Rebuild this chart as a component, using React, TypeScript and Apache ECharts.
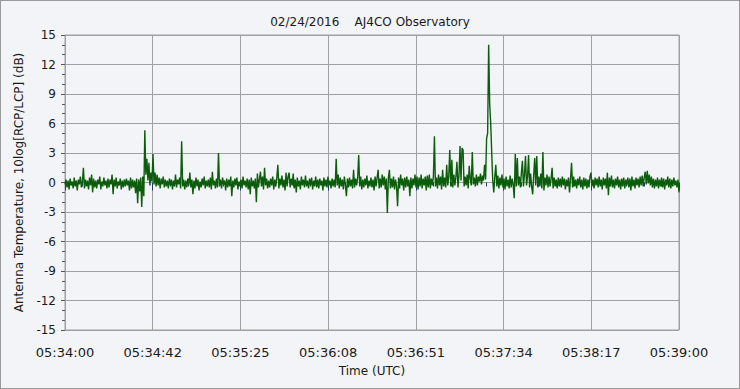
import React, { useEffect, useRef } from "react";
import * as echarts from "echarts";

const titleText = "02/24/2016    AJ4CO Observatory";
const xAxisName = "Time (UTC)";
const yAxisName = "Antenna Temperature, 10log[RCP/LCP] (dB)";
const tickLabels = ["05:34:00", "05:34:42", "05:35:25", "05:36:08", "05:36:51", "05:37:34", "05:38:17", "05:39:00"];
const DURATION_S = 300;
const SAMPLE_STEP_S = 0.5;

// RCP/LCP ratio (dB), one value every 0.5 s from 05:34:00
const signal = [
  -0.2, 0.3, -0.5, 0.2, -0.7, 0.4, -0.3, 0.1, -0.6, 0.5, -0.4, 0.2, -0.8, 0.3, -0.2, 0.6, -0.5, 0.1, 1.5, -0.6,
  0.3, -0.4, 0.2, -0.7, 0.5, -0.3, 0.8, -1.0, 0.4, -0.5, 0.2, -0.6, 0.3, -0.2, 0.6, -0.7, 0.1, -0.4, 0.5, -0.3,
  0.2, -0.6, 0.4, -0.5, 0.3, -0.2, 0.8, -1.2, 0.3, -0.4, 0.5, -0.6, 0.1, -0.3, 0.4, -0.7, 0.2, -0.5, 0.3, -0.4,
  0.4, -0.3, 0.2, -0.8, 0.5, -0.6, 0.3, -0.5, 0.2, -1.1, 0.4, -2.1, 0.3, -0.9, 0.5, -2.5, 0.6, -1.4, 5.3, 0.8,
  2.4, 0.2, 2.0, -0.3, 1.0, 0.1, 2.9, -0.2, 1.0, -0.4, 0.8, -0.3, 0.5, -0.6, 0.4, -0.2, 0.6, -0.5, 0.3, -0.4,
  0.2, -0.6, 0.4, -0.3, 0.3, -0.7, 0.2, -0.4, 0.8, -0.5, 0.3, -0.2, 0.5, -0.6, 4.2, -0.4, 0.3, -0.7, 0.2, -0.5,
  0.4, -0.3, 1.0, -0.5, 0.3, -1.2, 0.2, -0.6, 0.5, -0.4, 0.3, -0.8, 0.1, -0.5, 0.4, -0.3, 0.6, -0.6, 0.2, -0.4,
  0.3, -0.5, 0.5, -0.7, 1.1, -0.3, 0.2, -0.6, 0.4, -0.5, 3.0, -0.4, 0.3, -0.6, 0.5, -0.2, 0.2, -0.8, 0.4, -0.5,
  0.3, -0.4, 0.6, -1.4, 0.2, -0.5, 0.4, -0.3, 0.5, -0.7, 0.1, -0.4, 0.3, -0.6, 0.6, -0.3, 0.2, -0.5, 0.4, -0.7,
  0.3, -1.2, 0.5, -0.4, 0.2, -0.6, 0.4, -2.0, 0.9, -0.5, 0.3, 1.1, -0.4, 0.6, -0.7, 1.5, -0.3, 0.4, -0.6, 0.2,
  -0.5, 0.4, -0.3, 0.6, -0.7, 0.3, -0.4, 0.5, 1.8, -0.6, 0.4, -0.3, 0.7, -0.5, 0.3, -0.8, 1.0, -0.4, 0.6, 1.0,
  -0.5, 0.4, -0.3, 0.9, -0.6, 0.3, -1.0, 0.5, -0.4, 0.2, -0.7, 0.6, -0.3, 0.3, -0.5, 0.7, -0.4, 0.2, -0.6, 0.4,
  -0.3, 0.5, -0.7, 0.2, -0.4, 0.6, -0.5, 0.3, -0.6, 0.4, -0.3, 0.2, -0.8, 0.5, -0.4, 0.3, -0.5, 0.6, -0.3, 0.2,
  -0.6, 0.4, -0.4, 0.3, -0.5, 2.4, -0.3, 0.8, -0.6, 0.5, -0.4, 0.3, -0.7, 0.6, -0.3, -1.4, 0.4, -0.5, 0.5, -0.4,
  0.3, -0.6, 1.3, -0.5, 0.4, -0.3, 0.5, 2.8, -0.4, 0.6, -0.7, 0.3, -0.5, 0.4, -0.3, 0.7, -0.6, 0.2, -0.4, 0.5,
  -0.5, 0.3, -0.8, 0.6, -0.4, 0.5, 1.3, -0.6, 0.4, -0.5, 0.8, -0.3, 0.6, -0.7, 0.4, -3.1, 0.5, 1.3, -0.6, 0.4,
  -0.5, 0.6, -0.7, 0.3, -0.4, -2.4, 0.5, -0.6, 0.8, -0.3, 0.4, -0.8, 0.5, -0.5, 0.6, -0.4, 0.3, -1.4, 0.5, -0.6,
  0.4, -0.3, 0.8, -0.5, 0.6, -0.7, 0.5, -0.4, 0.8, -0.6, 0.4, -0.3, 0.6, -0.8, 0.7, -0.5, 0.8, -0.6, 0.4, -0.3,
  0.6, 4.7, -0.4, 0.5, -0.6, 0.8, -0.3, 0.6, -0.7, 1.3, -0.4, 0.5, -0.5, 1.8, -0.3, 0.6, 3.3, -0.4, 2.3, -0.5,
  0.8, -0.3, 0.6, 2.1, -0.5, 0.7, 3.7, 0.2, 3.5, 3.3, -0.4, 0.6, -0.3, 0.8, -0.6, 1.7, 0.4, -0.3, 3.1, -0.2,
  0.5, -0.4, 0.8, -0.3, 0.6, 0.1, 0.9, -0.2, 0.7, 0.2, 1.8, 0.3, 4.5, 5.0, 14.0, 8.0, 6.0, 3.0, 0.2, -1.0,
  0.6, 1.8, -0.4, 0.7, -0.6, 0.5, -0.3, 0.8, -0.5, 0.4, -0.7, 0.6, -0.4, 0.3, -0.6, 0.7, -0.5, 0.4, -0.3, -1.6,
  2.9, -0.4, 2.5, -0.3, 0.6, -0.5, 1.0, 2.2, -0.4, 0.8, 2.7, -0.3, 0.6, 2.8, -0.5, 0.9, -0.4, -1.2, 0.7, 2.5,
  -0.3, 2.7, -0.5, 0.6, -0.4, 0.9, -0.6, 3.1, -0.8, 0.5, -0.3, 0.8, -0.5, 0.6, -0.4, 0.4, 1.5, -0.6, 0.5, -0.4,
  0.3, -0.6, 0.5, -0.4, 0.4, -0.5, 0.6, -0.3, 0.4, -0.7, 0.3, -0.4, 0.5, -1.0, 0.4, 2.0, -0.5, 0.6, -0.4, 0.3,
  -0.6, 0.4, -0.3, 0.6, -0.5, 0.3, -0.7, 0.5, -0.4, 0.4, -0.6, 0.3, -0.5, 0.6, 1.0, -0.4, 0.3, -0.6, 0.5, -0.3,
  0.4, -0.5, 0.6, -0.4, 0.3, -0.7, 0.5, -0.3, 0.4, -0.6, 1.0, -1.3, 0.5, -0.4, 0.7, -0.5, 0.3, -0.6, 0.4, -0.3,
  0.6, -0.5, 0.3, -0.7, 0.4, -0.4, 0.5, -0.6, 0.3, -0.3, 0.5, -0.5, 0.4, -0.8, 0.6, -0.4, 0.3, -0.6, 0.5, -0.3,
  0.4, -0.5, 0.6, -0.3, 0.7, -0.4, 0.5, 1.1, -0.2, 1.2, -0.1, 0.8, -0.3, 0.6, -0.5, 0.4, -0.6, 0.3, -0.4, 0.5,
  -0.6, 0.3, -0.4, 0.5, -0.5, 0.4, -0.7, 0.3, -0.3, 0.6, -0.5, 0.4, -0.6, 0.3, -0.4, 0.5, -0.3, 0.2, -0.5, 0.3,
  -1.0,
];

const FONT = "DejaVu Sans";
const TEXT_COLOR = "#1a1a1a";
const GRID_COLOR = "#a0a0a0";

export default function App() {
  const ref = useRef<HTMLDivElement>(null);
  useEffect(() => {
    if (!ref.current) return;
    const chart = echarts.init(ref.current, null, { renderer: "svg" });
    const secondsPerTick = DURATION_S / (tickLabels.length - 1);
    const data = signal.map((v, i) => [(i * SAMPLE_STEP_S) / secondsPerTick, v]);
    chart.setOption({
      animation: false,
      backgroundColor: "#f3f4f7",
      title: {
        text: titleText,
        left: "center",
        top: 10,
        textStyle: { fontFamily: FONT, fontSize: 12, fontWeight: "normal", color: TEXT_COLOR },
      },
      grid: {
        left: 64,
        right: 60,
        top: 34,
        bottom: 58,
        show: true,
        borderColor: GRID_COLOR,
        borderWidth: 1,
        backgroundColor: "transparent",
      },
      xAxis: {
        type: "value",
        min: 0,
        max: tickLabels.length - 1,
        interval: 1,
        name: xAxisName,
        nameLocation: "middle",
        nameGap: 35,
        nameTextStyle: { fontFamily: FONT, fontSize: 12, color: TEXT_COLOR },
        axisLine: { show: false },
        axisTick: { show: true, length: 8, lineStyle: { color: "#203a6a" } },
        minorTick: { show: true, splitNumber: 5, length: 4, lineStyle: { color: "#203a6a" } },
        splitLine: { show: true, lineStyle: { color: GRID_COLOR, width: 1 } },
        axisLabel: {
          margin: 16,
          fontFamily: FONT,
          fontSize: 13,
          color: TEXT_COLOR,
          formatter: (v: number) => tickLabels[Math.round(v)] ?? "",
        },
      },
      yAxis: {
        type: "value",
        min: -15,
        max: 15,
        interval: 3,
        name: yAxisName,
        nameLocation: "middle",
        nameGap: 40,
        nameTextStyle: { fontFamily: FONT, fontSize: 12, color: TEXT_COLOR },
        axisLine: { show: false },
        axisTick: { show: true, length: 4, lineStyle: { color: "#555" } },
        minorTick: { show: true, splitNumber: 3, length: 3, lineStyle: { color: "#555" } },
        splitLine: { show: true, lineStyle: { color: GRID_COLOR, width: 1 } },
        axisLabel: { margin: 9, fontFamily: FONT, fontSize: 12, color: TEXT_COLOR },
      },
      series: [
        {
          type: "line",
          data,
          showSymbol: false,
          symbol: "none",
          lineStyle: { color: "#0b5d0b", width: 1.4 },
          silent: true,
        },
      ],
    });
    return () => chart.dispose();
  }, []);
  return (
    <div
      style={{
        position: "absolute",
        left: 0,
        top: 0,
        width: 740,
        height: 389,
        boxSizing: "border-box",
        border: "1px solid #9a9a9a",
        background: "#f3f4f7",
      }}
    >
      <div ref={ref} style={{ width: 738, height: 387 }} />
    </div>
  );
}
